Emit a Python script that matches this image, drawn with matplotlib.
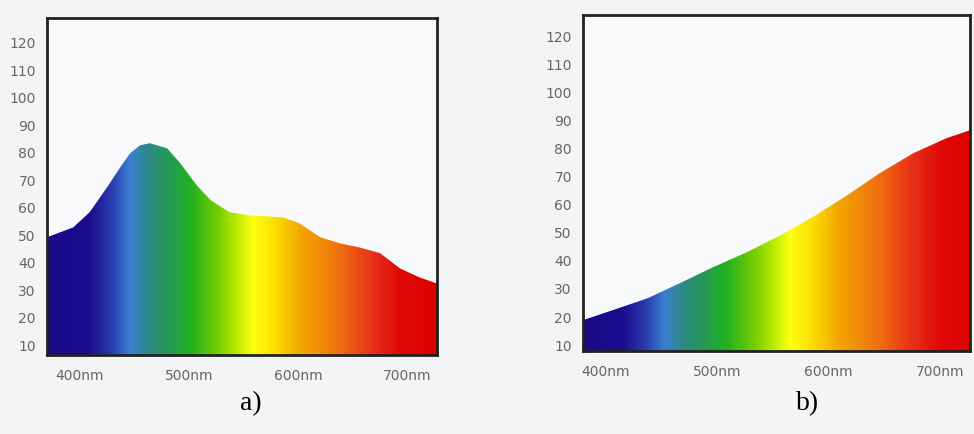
import numpy as np
import matplotlib.pyplot as plt
from matplotlib.colors import LinearSegmentedColormap
from matplotlib.patches import Polygon

# spectrum a)
wl_a = [370, 394, 409, 425, 437, 446, 455, 464, 480, 492, 507, 520, 537, 555,
        586, 601, 620, 638, 656, 675, 693, 711, 727]
val_a = [49.3, 52.9, 58.4, 67.5, 74.7, 79.8, 82.7, 83.5, 81.6, 76.2, 68.2, 62.7,
         58.4, 57.3, 56.5, 54.4, 49.3, 47.1, 45.6, 43.5, 38, 34.7, 32.5]

# spectrum b)
wl_b = [380, 407, 438, 467, 497, 527, 557, 586, 617, 646, 676, 706, 727]
val_b = [18.9, 22.5, 26.7, 32.1, 37.8, 43.1, 49.1, 55.6, 63.4, 71.2, 78.3, 83.7, 86.5]

yticks = [10, 20, 30, 40, 50, 60, 70, 80, 90, 100, 110, 120]
xticks = [400, 500, 600, 700]
xlabels = ['400nm', '500nm', '600nm', '700nm']

# colour stops along wavelength
stop_wl = [370, 409, 430, 446, 464, 480, 501, 528, 545, 559, 580, 602, 638, 669, 694, 730]
stop_col = ['#1a0a88', '#1c0c90', '#2a40b0', '#3a80d0', '#2a8a80', '#25985a',
            '#20b020', '#7ad000', '#c0ec00', '#ffff10', '#fadc00', '#f4a800',
            '#f07010', '#e83018', '#e00808', '#dc0000']
pos = [(w - stop_wl[0]) / (stop_wl[-1] - stop_wl[0]) for w in stop_wl]
cmap = LinearSegmentedColormap.from_list('spec', list(zip(pos, stop_col)))

fig = plt.figure(figsize=(9.74, 4.34), dpi=100)
fig.patch.set_facecolor('#f3f4f6')

ax_a = fig.add_axes([0.0483, 0.182, 0.4004, 0.7765])
ax_b = fig.add_axes([0.5986, 0.1912, 0.3973, 0.774])


def draw(ax, wl, val, xlim, ylim, shift=0):
    ax.set_facecolor('#f8f9fb')
    grad = np.linspace(0, 1, 512).reshape(1, -1)
    im = ax.imshow(grad, cmap=cmap, aspect='auto', interpolation='bicubic',
                   extent=[stop_wl[0] + shift, stop_wl[-1] + shift, ylim[0], ylim[1]],
                   zorder=1)
    verts = [(wl[0], ylim[0])] + list(zip(wl, val)) + [(wl[-1], ylim[0])]
    poly = Polygon(verts, closed=True, facecolor='none', edgecolor='none',
                   transform=ax.transData)
    ax.add_patch(poly)
    im.set_clip_path(poly)
    ax.set_xlim(*xlim)
    ax.set_ylim(*ylim)
    ax.set_yticks(yticks)
    ax.set_xticks(xticks)
    ax.set_xticklabels(xlabels)
    ax.tick_params(length=0, labelsize=10, labelcolor='#666666')
    ax.tick_params(axis='y', pad=8)
    ax.tick_params(axis='x', pad=10)
    for s in ax.spines.values():
        s.set_linewidth(2)
        s.set_color('#222222')
        s.set_zorder(5)


draw(ax_a, wl_a, val_a, (370, 727), (6.5, 129))
draw(ax_b, wl_b, val_b, (380, 727), (7.9, 127.5), shift=7)

fig.text(0.257, 0.055, 'a)', fontsize=20, family='Liberation Serif', ha='center')
fig.text(0.829, 0.055, 'b)', fontsize=20, family='Liberation Serif', ha='center')

fig.savefig('out.png', dpi=100, facecolor=fig.get_facecolor())
